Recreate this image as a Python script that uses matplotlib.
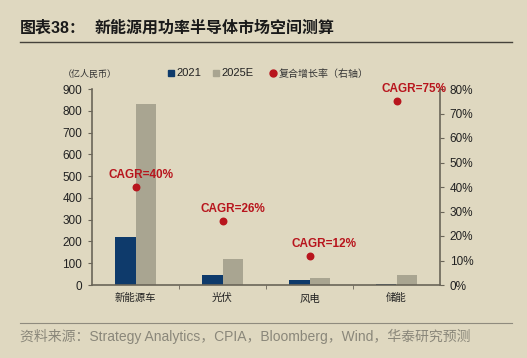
import matplotlib
matplotlib.use("Agg")
import matplotlib.pyplot as plt
from matplotlib.lines import Line2D
import numpy as np

plt.rcParams["font.family"] = ["Liberation Sans", "Noto Sans CJK SC", "DejaVu Sans"]

# Data
categories = ["新能源车", "光伏", "风电", "储能"]
value_2021 = [220, 46, 21, 3]
value_2025e = [832, 120, 33, 47]
cagr = [40, 26, 12, 75]
cagr_labels = ["CAGR=40%", "CAGR=26%", "CAGR=12%", "CAGR=75%"]

# label nudges (pixels) relative to each dot
label_dx = [5, 10, 14, 17]

bg = "#DFD8C0"
blue = "#0E3A6B"
grey = "#A9A591"
red = "#B8151D"
axis_col = "#6A6558"

W, H = 527, 358
fig = plt.figure(figsize=(W / 100, H / 100), dpi=100, facecolor=bg)

def fx(px):
    return px / W

def fy(py):
    return 1 - py / H

ax = fig.add_axes([fx(92), fy(285), fx(440) - fx(92), fy(89) - fy(285)])
ax.set_facecolor(bg)

x = np.arange(len(categories))
w = 0.235
ax.bar(x - w / 2, value_2021, width=w, color=blue, zorder=2)
ax.bar(x + w / 2, value_2025e, width=w, color=grey, zorder=2)
ax.set_xlim(-0.5, len(categories) - 0.5)
ax.set_ylim(0, 900)
ax.set_yticks(range(0, 901, 100))

ax2 = ax.twinx()
ax2.set_ylim(0, 80)
ax2.set_yticks(range(0, 81, 10))
ax2.set_yticklabels([f"{v}%" for v in range(0, 81, 10)])
ax2.scatter(x, cagr, s=22, color=red, zorder=3)
for xi, yi, lab, dx in zip(x, cagr, cagr_labels, label_dx):
    ax2.annotate(lab, (xi, yi), xytext=(dx, 12), textcoords="offset pixels",
                 color=red, fontsize=8.5, fontweight="bold",
                 ha="center", va="center", annotation_clip=False)

for a in (ax, ax2):
    a.spines["top"].set_visible(False)
    for s in ("left", "right", "bottom"):
        a.spines[s].set_color(axis_col)
        a.spines[s].set_linewidth(1.2)
ax.spines["right"].set_visible(False)
ax2.spines["left"].set_visible(False)
ax2.spines["bottom"].set_visible(False)

ax.tick_params(axis="y", labelsize=8.5, colors=axis_col, labelcolor="#222222",
               length=3, direction="out", pad=4)
ax2.tick_params(axis="y", labelsize=8.5, colors=axis_col, labelcolor="#222222",
                length=3, direction="out", pad=4)

ax.set_xticks(x)
ax.set_xticklabels(categories, fontsize=7.5, color="#222222")
ax.tick_params(axis="x", length=0, pad=6)
ax.set_xticks(np.arange(0.5, len(categories) - 0.5, 1), minor=True)
ax.tick_params(axis="x", which="minor", length=3, direction="out", colors=axis_col)

# Title and rules
fig.text(fx(20), fy(28), "图表38：", fontsize=11.5, fontweight="bold",
         color="#1A1A1A", va="center")
fig.text(fx(95), fy(28), "新能源用功率半导体市场空间测算", fontsize=11.5,
         fontweight="bold", color="#1A1A1A", va="center")
fig.add_artist(Line2D([fx(20), fx(512)], [fy(42), fy(42)], color="#45423B", lw=1.0))
fig.add_artist(Line2D([fx(20), fx(512)], [fy(323), fy(323)], color="#8F8B7E", lw=0.8))

# Legend row
fig.text(fx(63), fy(74), "（亿人民币）", fontsize=6.5, color="#333333", va="center")
fig.add_artist(Line2D([fx(171)], [fy(73)], marker="s", ms=4.5, color=blue, lw=0))
fig.text(fx(176), fy(73), "2021", fontsize=8, color="#222222", va="center")
fig.add_artist(Line2D([fx(216)], [fy(73)], marker="s", ms=4.5, color=grey, lw=0))
fig.text(fx(221), fy(73), "2025E", fontsize=8, color="#222222", va="center")
fig.add_artist(Line2D([fx(273)], [fy(73)], marker="o", ms=5, color=red, lw=0))
fig.text(fx(279), fy(74), "复合增长率（右轴）", fontsize=7.2, color="#333333", va="center")

# Source
fig.text(fx(20), fy(336),
         "资料来源：Strategy Analytics，CPIA，Bloomberg，Wind，华泰研究预测",
         fontsize=10, color="#8A877A", va="center")

fig.savefig("out.png", dpi=100, facecolor=bg)
